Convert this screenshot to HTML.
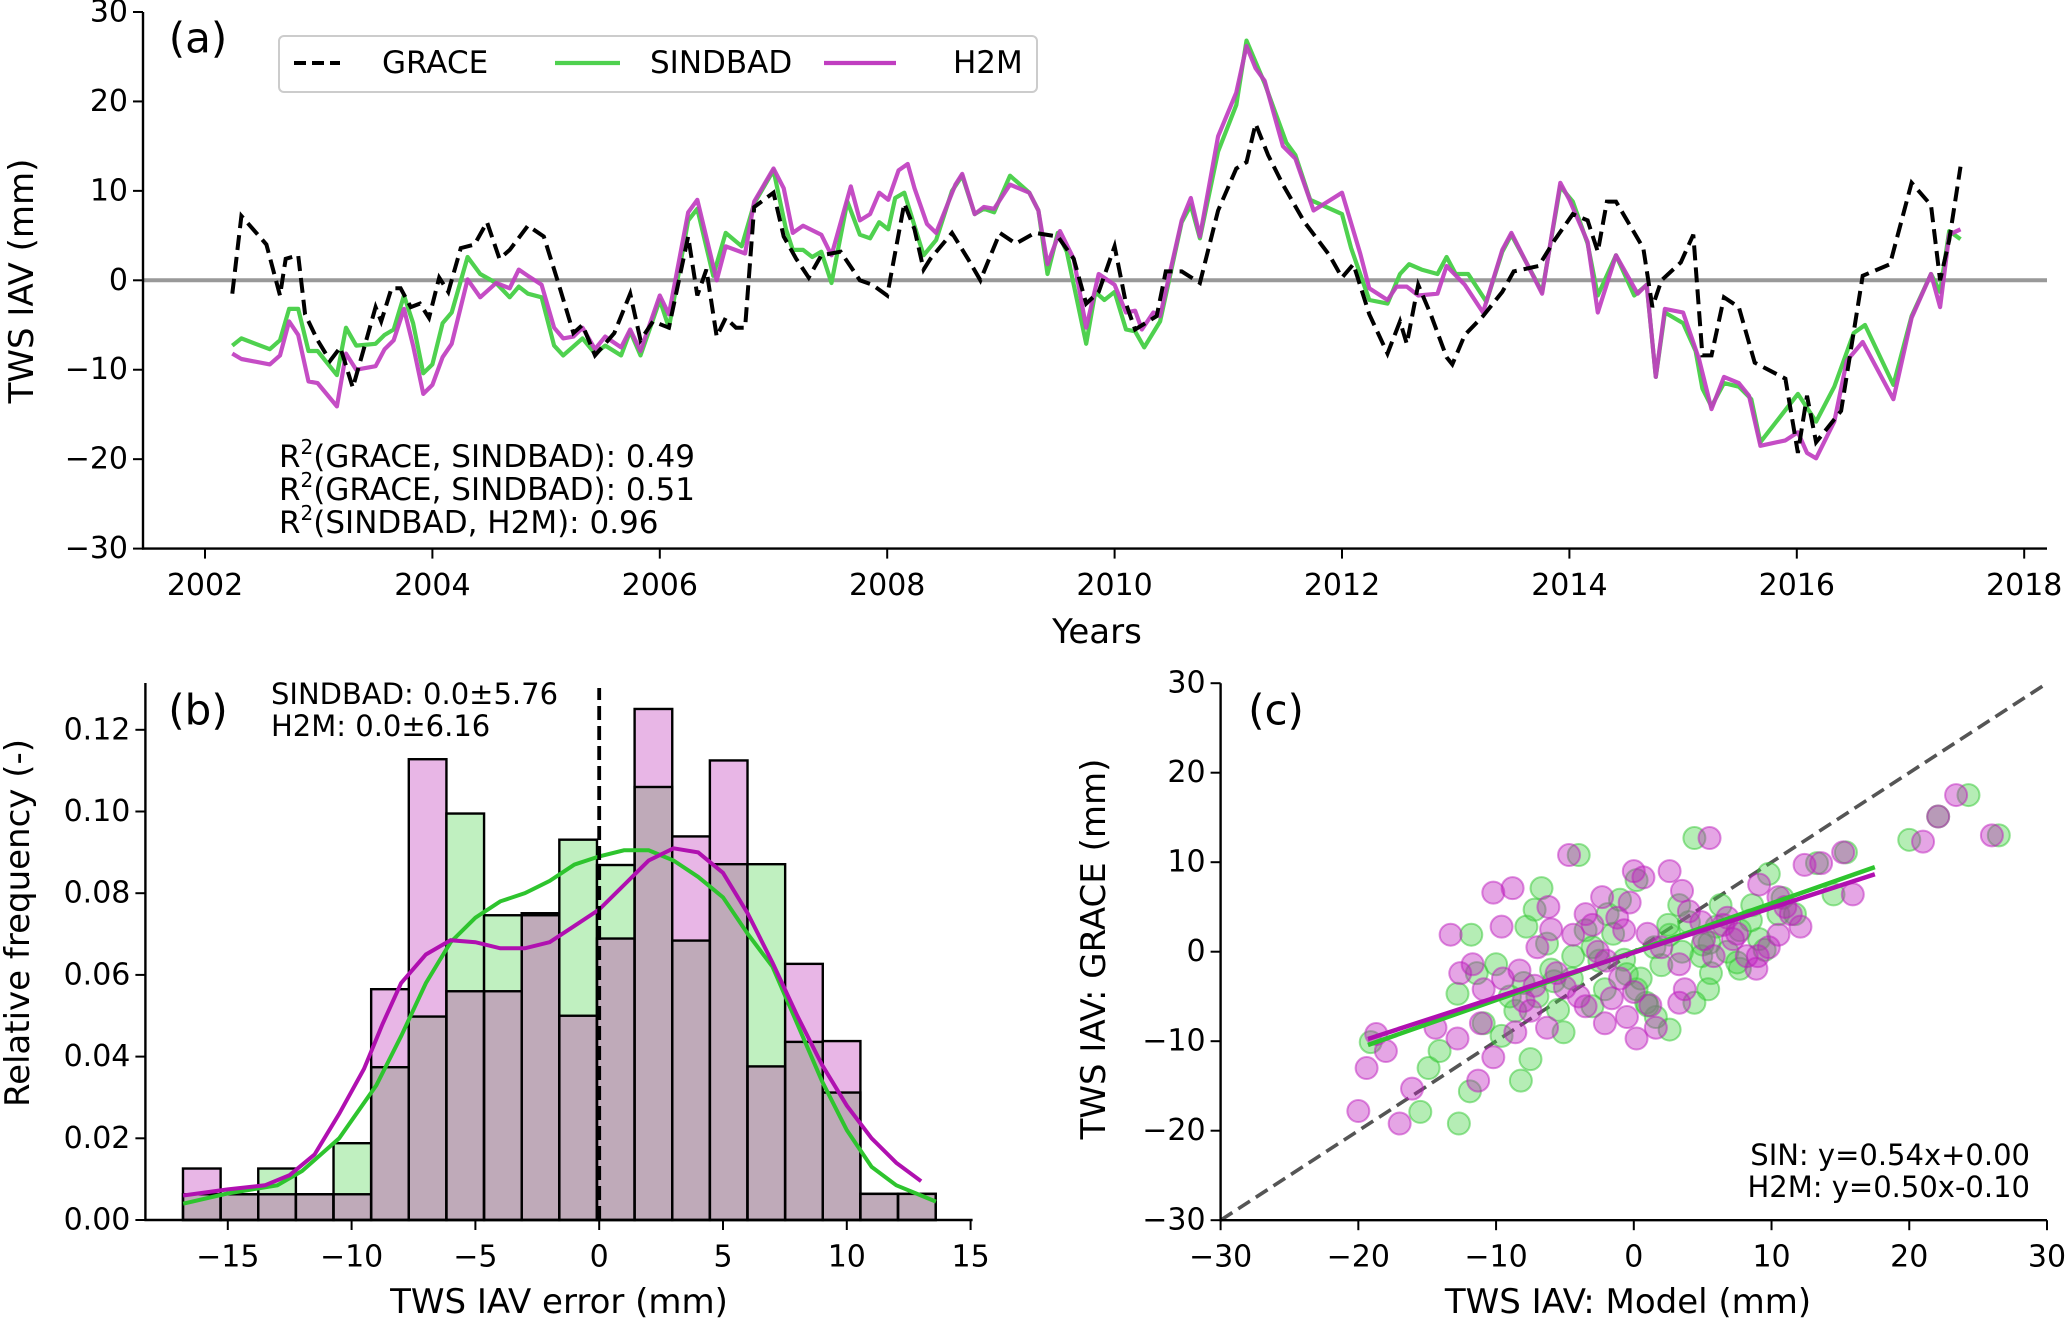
<!DOCTYPE html>
<html><head><meta charset="utf-8"><style>
html,body{margin:0;padding:0;background:#fff;}
svg{display:block;font-family:"DejaVu Sans","Liberation Sans",sans-serif;}
</style></head><body>
<svg id="fig" width="2067" height="1322" viewBox="0 0 2067 1322" xmlns="http://www.w3.org/2000/svg"></svg>
<script>
// ---------- Panel (a) data ----------
const graceYears=[2002.24,2002.32,2002.54,2002.66,2002.71,2002.82,2002.88,2002.99,2003.10,2003.19,2003.30,2003.39,2003.50,2003.55,2003.64,2003.72,2003.81,2003.89,2003.97,2004.06,2004.14,2004.25,2004.37,2004.48,2004.59,2004.68,2004.84,2004.98,2005.10,2005.24,2005.32,2005.43,2005.60,2005.74,2005.83,2005.94,2006.08,2006.25,2006.33,2006.41,2006.50,2006.58,2006.67,2006.75,2006.83,2007.00,2007.09,2007.20,2007.31,2007.42,2007.59,2007.76,2007.87,2008.00,2008.15,2008.24,2008.32,2008.38,2008.57,2008.71,2008.82,2008.99,2009.13,2009.30,2009.50,2009.64,2009.75,2009.86,2010.00,2010.10,2010.18,2010.37,2010.45,2010.59,2010.75,2010.91,2011.07,2011.16,2011.24,2011.35,2011.48,2011.67,2011.89,2012.00,2012.10,2012.24,2012.40,2012.51,2012.57,2012.67,2012.78,2012.92,2012.97,2013.08,2013.24,2013.41,2013.51,2013.73,2013.87,2014.03,2014.16,2014.25,2014.33,2014.41,2014.65,2014.73,2014.81,2014.98,2015.09,2015.17,2015.25,2015.36,2015.49,2015.63,2015.90,2016.01,2016.09,2016.17,2016.39,2016.58,2016.82,2017.01,2017.18,2017.26,2017.34,2017.44];
const graceVals=[-1.5,7.2,4,-1.7,2.4,2.8,-3.8,-6.7,-9,-7.5,-12,-8,-3,-4.6,-0.9,-0.9,-3,-2.6,-4.2,0.3,-1.3,3.6,4,6.5,2.4,3.4,6.1,4.9,0,-5.9,-5,-8.4,-5.9,-1.5,-6.7,-4.6,-5.3,4.9,-1.7,1.2,-6.3,-4.2,-5.3,-5.3,8.2,9.8,4.9,2.4,0.3,2.8,3.2,0,-0.5,-1.7,8.6,5.7,1.2,2.4,5.3,2.4,0,5.3,4.1,5.3,4.9,2.4,-2.6,-1.3,3.8,-2.6,-5.5,-4,1,1,-0.3,7.8,12.5,13.2,17.5,14,10.7,6.5,2.8,0.3,1.8,-3.8,-8.2,-4.6,-7.1,-0.5,-3.8,-8.6,-9.4,-6.1,-4,-1.3,1,1.6,4.5,7.4,6.7,3.2,8.8,8.8,3.6,-3,0,2,5.1,-8.4,-8.4,-1.9,-3,-9.2,-11,-19.3,-12.9,-18.1,-14.6,0.5,1.8,10.9,8.4,0,4.5,12.7];
const sinYears=[2002.24,2002.32,2002.57,2002.66,2002.74,2002.82,2002.91,2002.99,2003.16,2003.24,2003.33,2003.50,2003.58,2003.66,2003.75,2003.83,2003.92,2004.00,2004.09,2004.17,2004.31,2004.42,2004.56,2004.68,2004.76,2004.84,2004.96,2005.07,2005.15,2005.32,2005.43,2005.52,2005.66,2005.74,2005.83,2006.00,2006.08,2006.25,2006.33,2006.47,2006.58,2006.72,2006.83,2007.00,2007.11,2007.17,2007.26,2007.34,2007.42,2007.51,2007.65,2007.76,2007.85,2007.93,2008.01,2008.07,2008.15,2008.32,2008.43,2008.57,2008.66,2008.77,2008.85,2008.94,2009.08,2009.25,2009.33,2009.41,2009.50,2009.58,2009.75,2009.83,2009.91,2010.00,2010.10,2010.18,2010.26,2010.40,2010.59,2010.67,2010.75,2010.91,2011.07,2011.16,2011.32,2011.51,2011.59,2011.72,2012.00,2012.08,2012.24,2012.40,2012.51,2012.59,2012.70,2012.84,2012.92,2013.00,2013.11,2013.27,2013.41,2013.49,2013.76,2013.92,2014.03,2014.16,2014.25,2014.41,2014.57,2014.68,2014.76,2014.84,2015.00,2015.11,2015.17,2015.25,2015.36,2015.49,2015.60,2015.68,2016.01,2016.17,2016.33,2016.50,2016.60,2016.85,2017.01,2017.18,2017.26,2017.34,2017.44];
const sinVals=[-7.3,-6.5,-7.7,-6.7,-3.2,-3.2,-7.9,-7.9,-10.6,-5.3,-7.3,-7.1,-6.1,-5.5,-1.7,-4.8,-10.4,-9.4,-4.8,-3.6,2.6,0.7,-0.3,-1.9,-0.7,-1.5,-1.9,-7.3,-8.4,-6.5,-8.2,-7.3,-8.4,-5.7,-8.4,-2.2,-5.3,6.7,8,0.5,5.3,3.8,8.6,12.3,5.7,3.4,3.4,2.6,3.2,-0.3,8.8,5.1,4.7,6.5,5.7,9.2,9.8,2.8,4.5,10,11.7,7.4,8,7.6,11.7,9.8,7.8,0.7,5.3,3.2,-7.1,-1.3,-2.2,-1.3,-5.5,-5.7,-7.5,-4.6,6.5,8.4,4.7,14.4,19.6,26.8,22,15.4,14,9,7.4,3.6,-2.2,-2.6,0.7,1.8,1.2,0.7,2.6,0.7,0.7,-2.4,3.2,5.1,-1.3,10.5,8.8,4.1,-1.7,2.8,-1.7,-0.5,-10.8,-3.6,-4.8,-7.9,-12.1,-14.1,-11.5,-11.9,-13.3,-18.1,-12.7,-15.8,-11.9,-5.9,-5,-11.7,-4,0.7,-1.3,5.5,4.6];
const h2mYears=[2002.24,2002.32,2002.57,2002.66,2002.74,2002.82,2002.91,2002.99,2003.16,2003.24,2003.33,2003.50,2003.58,2003.66,2003.75,2003.83,2003.92,2004.00,2004.09,2004.17,2004.31,2004.42,2004.56,2004.68,2004.76,2004.84,2004.96,2005.07,2005.15,2005.24,2005.32,2005.43,2005.52,2005.66,2005.74,2005.83,2006.00,2006.08,2006.25,2006.33,2006.50,2006.58,2006.75,2006.83,2007.00,2007.09,2007.17,2007.26,2007.42,2007.51,2007.68,2007.76,2007.85,2007.93,2008.01,2008.10,2008.18,2008.24,2008.35,2008.43,2008.60,2008.66,2008.77,2008.85,2008.94,2009.08,2009.25,2009.33,2009.41,2009.52,2009.64,2009.75,2009.86,2010.00,2010.10,2010.18,2010.24,2010.34,2010.40,2010.59,2010.67,2010.75,2010.91,2011.07,2011.16,2011.24,2011.32,2011.48,2011.59,2011.75,2012.00,2012.16,2012.24,2012.40,2012.48,2012.57,2012.67,2012.84,2012.92,2013.08,2013.24,2013.41,2013.49,2013.76,2013.92,2014.00,2014.16,2014.25,2014.41,2014.60,2014.68,2014.76,2014.84,2015.00,2015.14,2015.25,2015.36,2015.49,2015.58,2015.68,2015.90,2016.01,2016.09,2016.17,2016.33,2016.44,2016.58,2016.85,2017.01,2017.18,2017.26,2017.34,2017.44];
const h2mVals=[-8.2,-8.8,-9.4,-8.4,-4.6,-6.1,-11.3,-11.5,-14.1,-8.2,-10,-9.6,-7.7,-6.7,-3.2,-7.3,-12.7,-11.7,-8.6,-7.1,0.1,-1.9,-0.3,-0.9,1.2,0.5,-0.5,-5.3,-6.5,-6.3,-5.3,-7.7,-6.3,-7.5,-5.5,-7.9,-1.7,-3.8,7.6,9,0,3.8,3,8.8,12.5,10.3,5.3,6.1,5.1,2.8,10.5,6.7,7.4,9.8,9,12.3,13,10.3,6.3,5.3,10.7,11.9,7.4,8.2,8,10.7,9.8,7.8,1.8,5.5,2.4,-5.3,0.7,-0.5,-3.6,-3.4,-5.5,-3.6,-4,6.7,9.2,4.9,16.1,21,26.2,23.7,22.3,15,13.6,7.8,9.8,3,-0.9,-2.2,-0.7,-0.7,-1.7,-1.5,1.6,-0.5,-3.6,3.4,5.3,-1.5,10.9,9,4.3,-3.6,2.8,-1.5,-0.5,-10.8,-3.2,-3.6,-8.8,-14.4,-10.8,-11.5,-12.9,-18.5,-17.9,-17,-19.3,-19.9,-15.8,-9,-6.9,-13.3,-4.2,0.7,-3,5.1,5.7];
const aYTicks=[-30,-20,-10,0,10,20,30];
const aXTicks=[2002,2004,2006,2008,2010,2012,2014,2016,2018];

// ---------- Panel (b) data ----------
const binEdgeStart=-16.81, binWidth=1.52;
const sinFreq=[0.0063,0.0063,0.0126,0.0063,0.0188,0.0374,0.0498,0.0995,0.0746,0.0746,0.0931,0.0869,0.106,0.0684,0.0871,0.0871,0.0436,0.0312,0.0064,0.0064];
const h2mFreq=[0.0126,0.0063,0.0063,0.0063,0.0063,0.0565,0.1128,0.056,0.056,0.0751,0.050,0.0689,0.1251,0.0939,0.1125,0.0376,0.0627,0.0438,0.0064,0.0064];
const sinKdeX=[-16.8,-15,-13,-12,-10.5,-9,-8,-7,-6,-5,-4,-3,-2,-1,0,1,2,3,4,5,6,7,8,9,10,11,12,13,13.6];
const sinKdeY=[0.004,0.0065,0.0085,0.012,0.02,0.033,0.045,0.058,0.068,0.074,0.078,0.080,0.083,0.087,0.089,0.0905,0.0905,0.088,0.084,0.079,0.070,0.062,0.048,0.034,0.022,0.013,0.0085,0.006,0.0045];
const h2mKdeX=[-16.8,-15,-13.5,-12.5,-11.5,-10.5,-9.5,-8.75,-8,-7,-6,-5,-4,-3,-2,-1,0,1,2,3,4,5,6,7,8,9,10,11,12,13];
const h2mKdeY=[0.006,0.0075,0.0085,0.011,0.016,0.026,0.037,0.048,0.058,0.065,0.0685,0.068,0.0665,0.0665,0.068,0.072,0.076,0.082,0.088,0.091,0.090,0.085,0.075,0.063,0.050,0.038,0.028,0.020,0.014,0.0095];
const bXTicks=[-15,-10,-5,0,5,10,15];
const bYTicks=[0,0.02,0.04,0.06,0.08,0.10,0.12];

// ---------- Panel (c) data ----------
const sinScatX=[20,24.3,22.1,26.5,4.4,-4,-6.7,9.8,15.4,14.5,-11.8,-7.8,-7.2,5.6,7.7,5.4,4.4,2.6,1.6,0.9,-5.1,-7.5,-8.2,-9.6,-11.9,-12.7,-15.5,-14.9,-14.1,-19.1,-8.6,-10.9,-5.8,-4.4,-6.3,-1.9,-0.7,3.3,4.9,6.8,9.1,10.5,11.7,13.3,6.3,0.2,-2.1,-3,0.2,-11.4,-12.8,-10,-3.5,2.6,8.6,7.7,4,-2.5,-1.5,-0.5,1,1.5,2,-4.5,-6,-7,5,6,7.5,8.5,9.5,10.8,-9,-8,-3,-1,0.5,2.5,3.5,5.5,-5.5];
const sinScatY=[12.5,17.5,15.1,13,12.7,10.8,7.1,8.7,11.1,6.4,1.9,2.8,4.7,-2.4,-1.9,-4.2,-5.7,-8.7,-7.3,-5.7,-9,-12,-14.4,-9.4,-15.6,-19.2,-17.9,-13,-11.1,-10.1,-6.6,-8,-3.3,-0.5,0.9,4.2,-0.9,5.2,-0.5,0,1.4,4.2,4.2,9.9,5.2,8,-4.2,-6.1,-4.2,-2.4,-4.7,-1.4,2.4,1.9,5.2,2.4,3.3,-1,2,-2.5,-6,0.5,-1.5,-3,-2,-5,0.8,2.8,-1.2,3.5,0.2,6,-5,-3.5,0.5,5.8,-3,3,0,1,-6.5];
const h2mScatX=[21,23.4,22.1,26,5.5,-4.7,-8.8,-10.2,-13.3,-9.6,-6.2,2.6,0,0.7,3.5,9.1,12.4,13.6,15.2,15.9,12.1,11.4,10.5,8.9,9.8,7.2,5.1,3.3,3.7,3.3,0.2,1.6,-0.5,-1.6,-2.1,-3.5,-5.6,-7.2,-8.3,-8.6,-7.5,-6.3,-10.2,-11.3,-11.1,-12.8,-14.4,-12.6,-10.9,-11.7,-18,-19.4,-18.7,-20,-17,-16.1,-3.5,-2.3,-1.2,-0.7,-4.4,-2.6,4.9,5.8,8.2,10.5,6.8,-1,0,1,2,-2,-3,-4,-5,-6,-7,-8,4,6.5,7.5,9,11,-9.5,-0.3,1.2];
const h2mScatY=[12.3,17.5,15.1,13,12.7,10.8,7.1,6.6,1.9,2.8,5,9,9,8.3,6.8,7.5,9.7,9.9,11.1,6.4,2.8,4.2,6.1,-1.9,0.5,1.4,1.4,-1.4,-4.2,-5.7,-9.7,-8.5,-7.3,-5.2,-8,-6.1,-2.4,-3.8,-2.1,-9,-6.6,-8.5,-11.8,-14.4,-8,-9.7,-8.5,-2.4,-4.2,-1.4,-11.1,-13,-9.2,-17.8,-19.2,-15.3,4.2,6.1,3.8,2.4,1.9,0,3.3,-0.5,-0.5,1.9,3.8,-3,-4.5,2,0.5,-1,3,-5,-4,2.5,0.5,-5.5,4.5,3,2,-0.5,5,-3,5.5,-6];
const sinFit=[0.54,0.00], h2mFit=[0.50,-0.10], fitRange=[-19.3,17.5];
const cTicks=[-30,-20,-10,0,10,20,30];

// ---------- helpers ----------
const NS="http://www.w3.org/2000/svg";
const svg=document.getElementById('fig');
function mk(tag,attrs,parent){const e=document.createElementNS(NS,tag);for(const k in attrs)e.setAttribute(k,attrs[k]);(parent||svg).appendChild(e);return e;}
function txt(s,x,y,size,anchor,parent,extra){const e=mk('text',Object.assign({x:x,y:y,'font-size':size,'text-anchor':anchor||'start','dominant-baseline':'central',fill:'#000'},extra||{}),parent);e.textContent=s;return e;}
function fmtMinus(v){return (v<0?'\u2212':'')+Math.abs(v);}

// ================= Panel (a) =================
const ga=mk('g',{});


const aL=143,aR=2047,aT=12,aB=548.6;
const ax=y=>205+(y-2002)*113.7;
const ay=v=>aB-(v+30)/60*(aB-aT);
const zl=mk('line',{x1:aL,x2:aR,y1:ay(0),y2:ay(0),stroke:'#999',"stroke-width":4},ga);

function poly(xs,ys,fx,fy,attrs,parent,name){const d=xs.map((x,i)=>(i?'L':'M')+fx(x).toFixed(1)+','+fy(ys[i]).toFixed(1)).join('');const p=mk('path',Object.assign({d:d,fill:'none'},attrs),parent);return p;}
poly(sinYears,sinVals,ax,ay,{stroke:'#4fd14f','stroke-width':4.2,'stroke-linejoin':'round'},ga,'sindbad-line');
poly(h2mYears,h2mVals,ax,ay,{stroke:'#c03ec0','stroke-width':4.2,'stroke-linejoin':'round','stroke-opacity':0.92},ga,'h2m-line');
poly(graceYears,graceVals,ax,ay,{stroke:'#000','stroke-width':4,'stroke-dasharray':'15,7'},ga,'grace-line');
mk('line',{x1:aL,x2:aL,y1:aT,y2:aB+1,stroke:'#000','stroke-width':2.4},ga);
mk('line',{x1:aL-1,x2:aR,y1:aB,y2:aB,stroke:'#000','stroke-width':2.4},ga);
aYTicks.forEach(v=>{mk('line',{x1:aL-10,x2:aL,y1:ay(v),y2:ay(v),stroke:'#000','stroke-width':2},ga);const t=txt(fmtMinus(v),aL-15,ay(v),30,'end',ga);});
aXTicks.forEach(v=>{mk('line',{x1:ax(v),x2:ax(v),y1:aB,y2:aB+10,stroke:'#000','stroke-width':2},ga);const t=txt(String(v),ax(v),aB+37,30,'middle',ga);});
let t;
t=txt('TWS IAV (mm)',0,0,34,'middle',ga,{transform:'translate(22,281) rotate(-90)'});
t=txt('Years',1097,632,34,'middle',ga);
t=txt('(a)',198,38,42,'middle',ga);
const lg=mk('g',{},ga);

mk('rect',{x:279,y:36,width:758,height:56,rx:5,fill:'#fff','fill-opacity':0.8,stroke:'#ccc','stroke-width':2},lg);
mk('line',{x1:294,x2:340,y1:63,y2:63,stroke:'#000','stroke-width':4,'stroke-dasharray':'12,6'},lg);
t=txt('GRACE',382,63,31,'start',lg);
mk('line',{x1:555,x2:620,y1:63,y2:63,stroke:'#4fd14f','stroke-width':4.2},lg);
t=txt('SINDBAD',650,63,31,'start',lg);
mk('line',{x1:824,x2:896,y1:63,y2:63,stroke:'#c03ec0','stroke-width':4.2},lg);
t=txt('H2M',953,63,31,'start',lg);
const r2Lines=['(GRACE, SINDBAD): 0.49','(GRACE, SINDBAD): 0.51','(SINDBAD, H2M): 0.96'];
r2Lines.forEach((s,i)=>{const e=mk('text',{x:279,y:457+i*33,'font-size':31,'dominant-baseline':'central'},ga);
 const a=mk('tspan',{},e);a.textContent='R';const b=mk('tspan',{dy:-10,'font-size':20},e);b.textContent='2';const c=mk('tspan',{dy:10},e);c.textContent=s;});

// ================= Panel (b) =================
const gb=mk('g',{});


const bL=145.4,bR=972.6,bB=1220,bT=683;
const bx=v=>599.2+v*24.76;
const by=f=>bB-f*4085;
sinFreq.forEach((s,i)=>{
 const h=h2mFreq[i];const x0=bx(binEdgeStart+i*binWidth),w=binWidth*24.76;
 const hi=Math.max(s,h),lo=Math.min(s,h);
 const top=mk('rect',{x:x0,y:by(hi),width:w,height:bB-by(hi),fill:(h>s?'#e8b6e6':'#c0f0c0')},gb);
 
 const ov=mk('rect',{x:x0,y:by(lo),width:w,height:bB-by(lo),fill:'#bfaab9'},gb);
 
 mk('rect',{x:x0,y:by(s),width:w,height:bB-by(s),fill:'none',stroke:'#000','stroke-width':2.4},gb);
 mk('rect',{x:x0,y:by(h),width:w,height:bB-by(h),fill:'none',stroke:'#000','stroke-width':2.4},gb);
});
poly(sinKdeX,sinKdeY,bx,by,{stroke:'#2ec42e','stroke-width':4},gb,'sindbad-kde');
poly(h2mKdeX,h2mKdeY,bx,by,{stroke:'#b010b0','stroke-width':4},gb,'h2m-kde');
mk('line',{x1:bx(0),x2:bx(0),y1:bB,y2:bT+5,stroke:'#000','stroke-width':3.8,'stroke-dasharray':'14,6'},gb);
mk('line',{x1:bL,x2:bL,y1:bT,y2:bB+1,stroke:'#000','stroke-width':2.4},gb);
mk('line',{x1:bL-1,x2:bR,y1:bB,y2:bB,stroke:'#000','stroke-width':2.4},gb);
bYTicks.forEach(v=>{mk('line',{x1:bL-10,x2:bL,y1:by(v),y2:by(v),stroke:'#000','stroke-width':2},gb);const e=txt(v.toFixed(2),bL-15,by(v),30,'end',gb);});
bXTicks.forEach(v=>{mk('line',{x1:bx(v),x2:bx(v),y1:bB,y2:bB+10,stroke:'#000','stroke-width':2},gb);const e=txt(fmtMinus(v),bx(v),bB+37,30,'middle',gb);});
t=txt('Relative frequency (-)',0,0,34,'middle',gb,{transform:'translate(18,923) rotate(-90)'});
t=txt('TWS IAV error (mm)',559,1302,34,'middle',gb);
t=txt('(b)',198,710,42,'middle',gb);
t=txt('SINDBAD: 0.0\u00b15.76',271,694,29,'start',gb);
t=txt('H2M: 0.0\u00b16.16',271,726,29,'start',gb);

// ================= Panel (c) =================
const gc=mk('g',{});


const cL=1220.6,cR=2047,cT=683.2,cB=1220.2;
const cx=v=>cL+(v+30)*(cR-cL)/60;
const cy=v=>cB-(v+30)*(cB-cT)/60;
mk('line',{x1:cx(-30),y1:cy(-30),x2:cx(30),y2:cy(30),stroke:'#555','stroke-width':3.6,'stroke-dasharray':'14,7'},gc);
sinScatX.forEach((x,i)=>{const c=mk('circle',{cx:cx(x),cy:cy(sinScatY[i]),r:11,fill:'rgba(70,210,70,0.4)',stroke:'rgba(50,200,50,0.5)','stroke-width':2},gc);
 });
h2mScatX.forEach((x,i)=>{const c=mk('circle',{cx:cx(x),cy:cy(h2mScatY[i]),r:11,fill:'rgba(190,30,190,0.4)',stroke:'rgba(190,30,190,0.5)','stroke-width':2},gc);
 });
[[sinFit,'#2ec42e','sindbad-fit-line'],[h2mFit,'#b010b0','h2m-fit-line']].forEach(([f,col,nm])=>{
 const l=mk('line',{x1:cx(fitRange[0]),y1:cy(f[0]*fitRange[0]+f[1]),x2:cx(fitRange[1]),y2:cy(f[0]*fitRange[1]+f[1]),stroke:col,'stroke-width':4.5},gc);
 });
mk('line',{x1:cL,x2:cL,y1:cT,y2:cB+1,stroke:'#000','stroke-width':2.4},gc);
mk('line',{x1:cL-1,x2:cR,y1:cB,y2:cB,stroke:'#000','stroke-width':2.4},gc);
cTicks.forEach(v=>{
 mk('line',{x1:cL-10,x2:cL,y1:cy(v),y2:cy(v),stroke:'#000','stroke-width':2},gc);
 let e=txt(fmtMinus(v),cL-15,cy(v),30,'end',gc);
 mk('line',{x1:cx(v),x2:cx(v),y1:cB,y2:cB+10,stroke:'#000','stroke-width':2},gc);
 e=txt(fmtMinus(v),cx(v),cB+37,30,'middle',gc);
});
t=txt('TWS IAV: GRACE (mm)',0,0,34,'middle',gc,{transform:'translate(1094,949) rotate(-90)'});
t=txt('TWS IAV: Model (mm)',1628,1302,34,'middle',gc);
t=txt('(c)',1276,710,42,'middle',gc);
t=txt('SIN: y=0.54x+0.00',2030,1155,29,'end',gc);
t=txt('H2M: y=0.50x-0.10',2030,1187,29,'end',gc);
</script>
</body></html>
